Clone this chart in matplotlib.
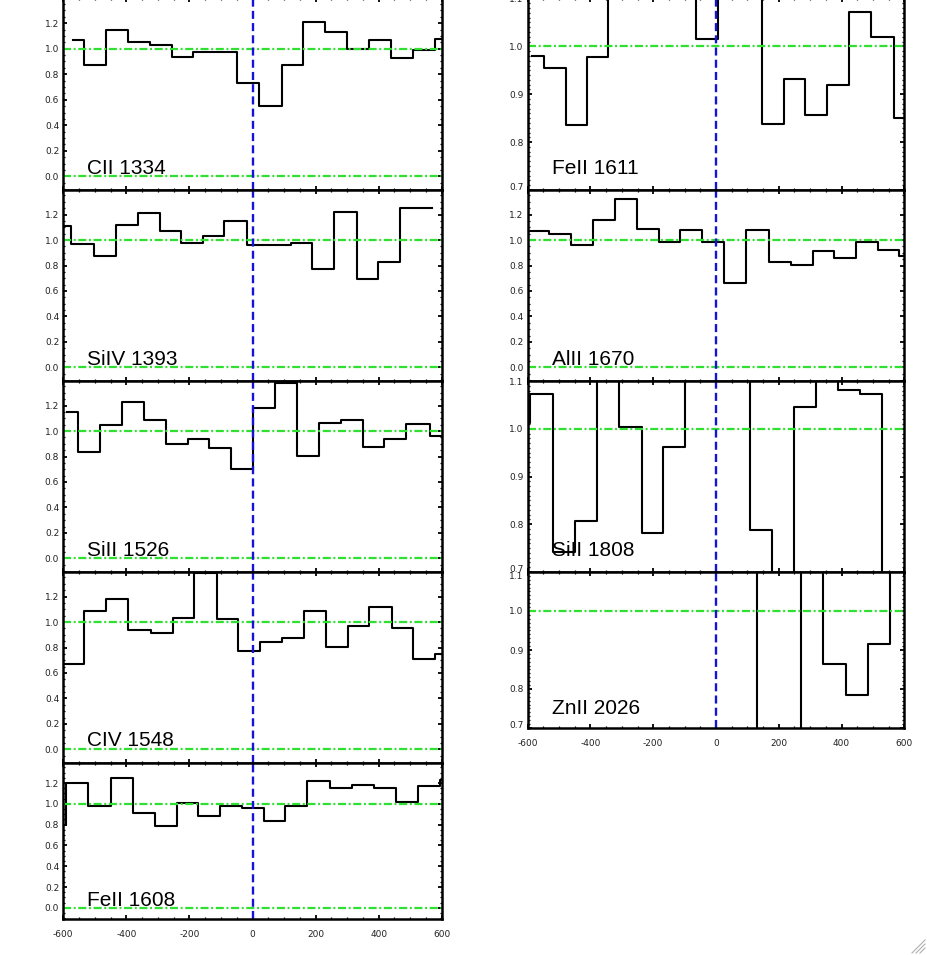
import matplotlib
matplotlib.use("Agg")
import matplotlib.pyplot as plt
from matplotlib.ticker import MultipleLocator, FixedLocator, FormatStrFormatter
from matplotlib.lines import Line2D
from matplotlib.transforms import ScaledTranslation

plt.rcParams["lines.scale_dashes"] = False
plt.rcParams["axes.unicode_minus"] = False

# ---------------- data (velocity bin centres in km/s, normalised flux) ----------------
v_cii = [-568, -500, -431, -361, -291, -222, -153, -84, -13, 57, 127, 196, 264, 333, 403, 473, 544, 614]
f_cii = [1.066, 0.874, 1.150, 1.055, 1.026, 0.932, 0.974, 0.974, 0.730, 0.554, 0.871, 1.210, 1.134, 0.997,
         1.071, 0.924, 0.992, 1.079]

v_siiv = [-609, -539, -469, -399, -329, -260, -191, -124, -56, 18, 89, 156, 224, 295, 365, 434, 502, 568]
f_siiv = [1.108, 0.971, 0.871, 1.115, 1.210, 1.068, 0.976, 1.034, 1.147, 0.958, 0.963, 0.976, 0.769, 1.218,
          0.693, 0.824, 1.255, 1.255]

v_sii1526 = [-588, -517, -448, -380, -310, -240, -170, -103, -34, 36, 106, 176, 246, 315, 384, 453, 522, 605]
f_sii1526 = [1.147, 0.837, 1.047, 1.231, 1.089, 0.898, 0.940, 0.869, 0.701, 1.178, 1.378, 0.803, 1.063, 1.084,
             0.874, 0.940, 1.052, 0.963]

v_civ = [-604, -569, -500, -429, -358, -288, -219, -149, -79, -12, 57, 128, 198, 267, 336, 406, 476, 545, 613]
f_civ = [0.668, 0.668, 1.086, 1.181, 0.937, 0.911, 1.034, 1.387, 1.021, 0.775, 0.843, 0.877, 1.089, 0.806,
         0.971, 1.120, 0.953, 0.712, 0.749]

v_feii1608 = [-628, -557, -485, -414, -345, -275, -206, -137, -69, 0, 70, 139, 209, 280, 349, 419, 489, 559, 630]
f_feii1608 = [0.799, 1.198, 0.981, 1.252, 0.917, 0.783, 1.006, 0.888, 0.981, 0.965, 0.837, 0.981, 1.220, 1.157,
              1.182, 1.150, 1.019, 1.176, 1.230]

v_feii1611 = [-585, -514, -444, -377, -309, -240, -171, -100, -29, 42, 113, 182, 249, 320, 390, 459, 529, 606]
f_feii1611 = [0.979, 0.955, 0.835, 0.978, 1.18, 1.22, 1.20, 1.16, 1.016, 1.20, 1.15, 0.838, 0.931, 0.856,
              0.920, 1.072, 1.019, 0.850]

v_alii = [-614, -569, -497, -426, -357, -287, -217, -148, -79, -9, 62, 132, 203, 273, 342, 412, 481, 550, 618]
f_alii = [1.073, 1.073, 1.050, 0.958, 1.160, 1.325, 1.089, 0.987, 1.081, 0.987, 0.661, 1.081, 0.824, 0.801,
          0.911, 0.858, 0.982, 0.924, 0.871]

v_sii1808 = [-628, -555, -484, -415, -344, -272, -202, -134, -65, 5, 74, 144, 215, 284, 354, 425, 495, 566, 636]
f_sii1808 = [1.011, 1.072, 0.742, 0.806, 1.15, 1.004, 0.781, 0.962, 1.20, 1.25, 1.18, 0.789, 0.60, 1.045,
             1.15, 1.081, 1.072, 0.60, 0.60]

v_znii = [-614, -544, -473, -401, -331, -260, -189, -119, -48, 23, 93, 166, 237, 307, 378, 449, 519, 589]
f_znii = [1.25, 1.25, 1.25, 1.25, 1.25, 1.25, 1.25, 1.25, 1.25, 1.25, 1.25, 0.55, 0.55, 1.25,
          0.864, 0.785, 0.915, 1.25]

left_names = ["CII 1334", "SiIV 1393", "SiII 1526", "CIV 1548", "FeII 1608"]
left_v = [v_cii, v_siiv, v_sii1526, v_civ, v_feii1608]
left_f = [f_cii, f_siiv, f_sii1526, f_civ, f_feii1608]

right_names = ["FeII 1611", "AlII 1670", "SiII 1808", "ZnII 2026"]
right_v = [v_feii1611, v_alii, v_sii1808, v_znii]
right_f = [f_feii1611, f_alii, f_sii1808, f_znii]
right_full_range = [False, True, False, False]

x_ticks = [-600, -400, -200, 0, 200, 400, 600]
full_ticks = [0.0, 0.2, 0.4, 0.6, 0.8, 1.0, 1.2]
zoom_ticks = [0.7, 0.8, 0.9, 1.0, 1.1]

# ---------------- layout ----------------
W, H = 927, 955
fig = plt.figure(figsize=(W / 100, H / 100), dpi=100)

LEFT_X = (63.3, 441.7)
RIGHT_X = (527.7, 904.3)
LEFT_Y = [(-1.5, 190), (190, 381), (381, 572), (572, 763), (763, 919)]
RIGHT_Y = [(-1.5, 190), (190, 381), (381, 572), (572, 728)]

GREEN = "#30e030"
BLUE = "#1414d8"


def make_ax(xr, yr):
    x0, x1 = xr
    t, b = yr
    return fig.add_axes([x0 / W, 1 - b / H, (x1 - x0) / W, (b - t) / H])


def style(ax, full, show_x, height_px, width_px, name, v, f, top_shift=0.0):
    ax.step(v, f, where="mid", color="black", lw=1.5, zorder=2)
    if full:
        ax.set_ylim(-0.107, 1.393)
        ax.yaxis.set_major_locator(FixedLocator(full_ticks))
        ax.yaxis.set_minor_locator(MultipleLocator(0.05))
        ax.axhline(0.0, color=GREEN, lw=1.6, dashes=(5.8, 1.9, 1.4, 1.9), zorder=3)
    else:
        ax.set_ylim(0.7, 1.1)
        ax.yaxis.set_major_locator(FixedLocator(zoom_ticks))
        ax.yaxis.set_minor_locator(MultipleLocator(0.01))
    ax.axhline(1.0, color=GREEN, lw=1.6, dashes=(5.8, 1.9, 1.4, 1.9), zorder=3)
    ax.axvline(0.0, color=BLUE, lw=1.7, dashes=(5.8, 3.0), zorder=4)
    ax.set_xlim(-600, 600)
    ax.xaxis.set_major_locator(FixedLocator(x_ticks))
    ax.xaxis.set_minor_locator(MultipleLocator(50))
    ax.yaxis.set_major_formatter(FormatStrFormatter("%.1f"))
    ax.tick_params(which="both", direction="in", top=True, right=True, colors="black",
                   labelsize=6.5, labelcolor="#222222")
    ax.tick_params(which="major", length=3.2, width=1.3, pad=3)
    ax.tick_params(which="minor", length=1.6, width=0.9)
    ax.tick_params(axis="x", which="major", pad=8)
    if not show_x:
        ax.tick_params(axis="x", labelbottom=False)
    for s in ax.spines.values():
        s.set_linewidth(1.8)
        s.set_zorder(5)
    if not full:
        ticks = ax.yaxis.get_major_ticks()
        lab_bot = ticks[0].label1
        lab_bot.set_transform(lab_bot.get_transform() + ScaledTranslation(0, 3.5 / 100, fig.dpi_scale_trans))
        if top_shift:
            lab_top = ticks[-1].label1
            lab_top.set_transform(lab_top.get_transform() + ScaledTranslation(0, -top_shift / 100, fig.dpi_scale_trans))
    base_px = 16.5 if height_px > 170 else 13.5
    ax.text(24.0 / width_px, base_px / height_px, name, transform=ax.transAxes,
            fontsize=15, family=["Liberation Sans", "DejaVu Sans"], va="baseline", ha="left",
            color="black", zorder=6)
    ax.set_facecolor("white")


for i, (name, v, f) in enumerate(zip(left_names, left_v, left_f)):
    yr = LEFT_Y[i]
    ax = make_ax(LEFT_X, yr)
    style(ax, True, i == len(left_names) - 1, yr[1] - yr[0], LEFT_X[1] - LEFT_X[0], name, v, f)

for i, (name, v, f) in enumerate(zip(right_names, right_v, right_f)):
    yr = RIGHT_Y[i]
    ax = make_ax(RIGHT_X, yr)
    shift = 3.5 if i == 3 else 0.0
    style(ax, right_full_range[i], i == len(right_names) - 1, yr[1] - yr[0], RIGHT_X[1] - RIGHT_X[0],
          name, v, f, top_shift=shift)

# window resize grip in the bottom-right corner
for k in range(3):
    off = 4 * k
    fig.add_artist(Line2D([(912 + off) / W, 925 / W], [1 - 953 / H, 1 - (940 + off) / H],
                          color="#b0b0b0", lw=0.8))

fig.savefig("out.png", dpi=100, facecolor="white")
